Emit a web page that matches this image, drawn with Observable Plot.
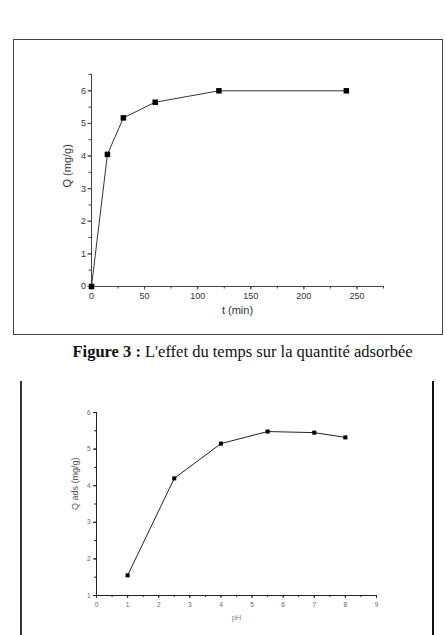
<!DOCTYPE html>
<html>
<head>
<meta charset="utf-8">
<script src="https://cdn.jsdelivr.net/npm/d3@7"></script>
<script src="https://cdn.jsdelivr.net/npm/@observablehq/plot@0.6"></script>
<style>
  html, body { margin: 0; padding: 0; background: #fff; }
  #page { position: relative; width: 447px; height: 635px; overflow: hidden; background: #fff; }
  .abs { position: absolute; }
  #frame1 { left: 13px; top: 39px; width: 428px; height: 294px; border: 1.5px solid #444; }
  #lineL { left: 20px; top: 381px; width: 2px; height: 260px; background: #333; }
  #lineR { left: 432px; top: 381px; width: 2px; height: 260px; background: #111; }
  #caption { left: 0; top: 343px; width: 485px; text-align: center; font-family: "Liberation Serif", "Times New Roman", serif; font-size: 16.5px; line-height: 18px; color: #111; white-space: nowrap; }
  #c1 { left: 0; top: 0; }
  #c2 { left: 0; top: 340px; }
</style>
</head>
<body>
<div id="page">
  <div id="frame1" class="abs"></div>
  <div id="c1" class="abs"></div>
  <div id="caption" class="abs"><b>Figure 3 :</b> L'effet du temps sur la quantité adsorbée</div>
  <div id="lineL" class="abs"></div>
  <div id="lineR" class="abs"></div>
  <div id="c2" class="abs"></div>
</div>
<script>
// Chart 1: effect of time
const timeMin = [0, 15, 30, 60, 120, 240];
const qTime = [0, 4.05, 5.17, 5.65, 6.0, 6.0];
const timeTicks = [0, 50, 100, 150, 200, 250];
const qTimeTicks = [0, 1, 2, 3, 4, 5, 6];

// Chart 2: effect of pH
const pHValues = [1, 2.5, 4, 5.5, 7, 8];
const qPH = [1.55, 4.2, 5.15, 5.48, 5.45, 5.32];
const pHTicks = [0, 1, 2, 3, 4, 5, 6, 7, 8, 9];
const qPHTicks = [1, 2, 3, 4, 5, 6];

const d1 = timeMin.map((t, i) => ({t, q: qTime[i]}));
const d2 = pHValues.map((p, i) => ({p, q: qPH[i]}));
const fmt = d3.format("d");

const chart1 = Plot.plot({
  width: 447, height: 340,
  marginLeft: 91, marginRight: 64, marginTop: 74, marginBottom: 54,
  style: {fontFamily: "'Liberation Sans', Arial, sans-serif", background: "transparent", color: "#333"},
  x: {domain: [0, 275], label: null},
  y: {domain: [0, 6.5], label: null},
  marks: [
    Plot.axisX({ticks: d3.range(0, 276, 25), tickSize: 2.5, text: null, label: null, stroke: "#444"}),
    Plot.axisX({ticks: timeTicks, tickSize: 3.5, tickPadding: 3, fontSize: 9, tickFormat: fmt, label: null, stroke: "#444", fill: "#333"}),
    Plot.axisY({ticks: d3.range(0, 6.6, 0.5), tickSize: 2.5, text: null, label: null, stroke: "#444"}),
    Plot.axisY({ticks: qTimeTicks, tickSize: 3.5, tickPadding: 2, fontSize: 9, tickFormat: fmt, label: null, stroke: "#444", fill: "#333"}),
    Plot.ruleY([0], {stroke: "#444"}),
    Plot.ruleX([0], {stroke: "#444"}),
    Plot.line(d1, {x: "t", y: "q", stroke: "#333", strokeWidth: 1}),
    Plot.dot(d1, {x: "t", y: "q", symbol: "square", fill: "#000", r: 3.1}),
    Plot.text(["Q (mg/g)"], {frameAnchor: "left", rotate: -90, dx: -24, dy: 7, fontSize: 11, fill: "#333"}),
    Plot.text(["t (min)"], {frameAnchor: "bottom", dy: 27, fontSize: 11, fill: "#333"})
  ]
});
document.getElementById("c1").appendChild(chart1);

const chart2 = Plot.plot({
  width: 447, height: 295,
  marginLeft: 96, marginRight: 71, marginTop: 72, marginBottom: 40,
  style: {fontFamily: "'Liberation Sans', Arial, sans-serif", background: "transparent", color: "#555"},
  x: {domain: [0, 9], label: null},
  y: {domain: [1, 6], label: null},
  marks: [
    Plot.axisX({ticks: d3.range(0, 9.01, 0.5), tickSize: 2, text: null, label: null, stroke: "#222"}),
    Plot.axisX({ticks: pHTicks, tickSize: 3, tickPadding: 4, fontSize: 6.5, tickFormat: fmt, label: null, stroke: "#222", fill: "#666"}),
    Plot.axisY({ticks: d3.range(1, 6.01, 0.5), tickSize: 2, text: null, label: null, stroke: "#222"}),
    Plot.axisY({ticks: qPHTicks, tickSize: 3, tickPadding: 3, fontSize: 6.5, tickFormat: fmt, label: null, stroke: "#222", fill: "#666"}),
    Plot.ruleY([1], {stroke: "#222"}),
    Plot.ruleX([0], {stroke: "#222"}),
    Plot.line(d2, {x: "p", y: "q", stroke: "#222", strokeWidth: 1}),
    Plot.dot(d2, {x: "p", y: "q", symbol: "square", fill: "#000", r: 2.3}),
    Plot.text(["Q ads (mg/g)"], {frameAnchor: "left", rotate: -90, dx: -21, dy: 6, fontSize: 9, fill: "#555"}),
    Plot.text(["pH"], {frameAnchor: "bottom", dy: 24, fontSize: 7.5, fill: "#888"})
  ]
});
document.getElementById("c2").appendChild(chart2);
</script>
</body>
</html>
